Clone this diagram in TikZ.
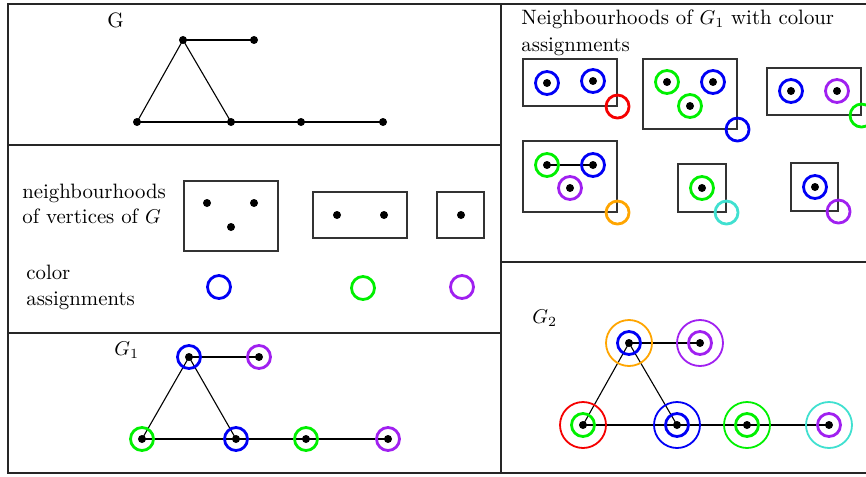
\documentclass[tikz,border=0pt]{standalone}
\definecolor{cgreen}{RGB}{0,240,0}
\definecolor{cpurple}{RGB}{160,32,240}
\definecolor{corange}{RGB}{255,165,0}
\definecolor{ccyan}{RGB}{64,224,208}
\definecolor{cblue}{RGB}{0,0,245}
\definecolor{cred}{RGB}{245,0,0}
\begin{document}
\begin{tikzpicture}[x=0.5pt,y=-0.5pt,
  every node/.style={font=\fontsize{10.4}{13}\selectfont},
  frame/.style={line width=0.7pt, draw=black!85},
  edge/.style={line width=0.55pt},
  vtx/.style={circle, fill=black, inner sep=0pt, minimum size=4pt},
  nbox/.style={draw=black!80, line width=0.55pt, inner sep=0pt},
  ring/.style={circle, draw=#1, line width=1.4pt, inner sep=0pt, minimum size=11.5pt},
  bigring/.style={circle, draw=#1, line width=0.9pt, inner sep=0pt, minimum size=23pt},
  txt/.style={inner sep=0pt, anchor=base west}]
\useasboundingbox (0,0) rectangle (866,476);

% table frame
\draw[frame] (8,4) rectangle (872,473);
\draw[frame] (8,145) -- (501,145);
\draw[frame] (8,333) -- (501,333);
\draw[frame] (501,4) -- (501,473);
\draw[frame] (501,262) -- (872,262);

% ---- graph G ----
\node[txt] (lG) at (107,28) {G};
\node[vtx] (g1) at (183,40) {};
\node[vtx] (g2) at (254,40) {};
\node[vtx] (g3) at (137,122) {};
\node[vtx] (g4) at (231,122) {};
\node[vtx] (g5) at (301,122) {};
\node[vtx] (g6) at (383,122) {};
\draw[edge] (g1.center) -- (g2.center);
\draw[edge] (g1.center) -- (g3.center);
\draw[edge] (g1.center) -- (g4.center);
\draw[edge] (g3.center) -- (g4.center) -- (g5.center) -- (g6.center);

% ---- neighbourhoods and colours ----
\node[txt] (t1) at (22,198) {neighbourhoods};
\node[txt] (t2) at (22,223) {of vertices of $G$};
\node[txt] (t3) at (26,279) {color};
\node[txt] (t4) at (26,305) {assignments};

\node[nbox, minimum width=47pt, minimum height=35pt] (n1) at (231,216) {};
\node[vtx] (n1a) at (207,203) {};
\node[vtx] (n1b) at (254,203) {};
\node[vtx] (n1c) at (231,227) {};
\node[nbox, minimum width=47pt, minimum height=23pt] (n2) at (360,215) {};
\node[vtx] (n2a) at (337,215) {};
\node[vtx] (n2b) at (384,215) {};
\node[nbox, minimum width=23.5pt, minimum height=23pt] (n3) at (460.5,215) {};
\node[vtx] (n3a) at (461,215) {};

\node[ring=cblue] (c1) at (219,287) {};
\node[ring=cgreen] (c2) at (363,288) {};
\node[ring=cpurple] (c3) at (462,287) {};

% ---- graph G1 ----
\node[txt] (lG1) at (114,355) {$G_1$};
\coordinate (h1) at (189,357);
\coordinate (h2) at (259,357);
\coordinate (h3) at (142,439);
\coordinate (h4) at (236,439);
\coordinate (h5) at (306,439);
\coordinate (h6) at (388,439);
\draw[edge] (h1) -- (h2);
\draw[edge] (h1) -- (h3);
\draw[edge] (h1) -- (h4);
\draw[edge] (h3) -- (h4) -- (h5) -- (h6);
\node[ring=cblue] (r1) at (h1) {};
\node[ring=cpurple] (r2) at (h2) {};
\node[ring=cgreen] (r3) at (h3) {};
\node[ring=cblue] (r4) at (h4) {};
\node[ring=cgreen] (r5) at (h5) {};
\node[ring=cpurple] (r6) at (h6) {};
\foreach \v in {h1,h2,h3,h4,h5,h6} \node[vtx] (d\v) at (\v) {};

% ---- neighbourhoods of G1 ----
\node[txt] (t5) at (521,25) {Neighbourhoods of $G_1$ with colour};
\node[txt] (t6) at (521,52) {assignments};

\node[nbox, minimum width=47pt, minimum height=23.5pt] (A) at (570,82.5) {};
\node[ring=cblue] (A1) at (547,83) {};
\node[ring=cblue] (A2) at (593,81) {};
\node[vtx] at (A1) {};
\node[vtx] at (A2) {};
\node[ring=cred] (Ac) at (A.south east) {};

\node[nbox, minimum width=47pt, minimum height=35pt] (B) at (690,94) {};
\node[ring=cgreen] (B1) at (667,82) {};
\node[ring=cblue] (B2) at (713,82) {};
\node[ring=cgreen] (B3) at (690,106) {};
\node[vtx] at (B1) {};
\node[vtx] at (B2) {};
\node[vtx] at (B3) {};
\node[ring=cblue] (Bc) at (B.south east) {};

\node[nbox, minimum width=47pt, minimum height=23.5pt] (C) at (814,91.5) {};
\node[ring=cblue] (C1) at (791,91) {};
\node[ring=cpurple] (C2) at (837,91) {};
\node[vtx] at (C1) {};
\node[vtx] at (C2) {};
\node[ring=cgreen] (Cc) at (C.south east) {};

\node[nbox, minimum width=47pt, minimum height=35.5pt] (D) at (570,176.5) {};
\draw[edge] (547,165) -- (593,165);
\node[ring=cgreen] (D1) at (547,165) {};
\node[ring=cblue] (D2) at (593,165) {};
\node[ring=cpurple] (D3) at (570,188) {};
\node[vtx] at (D1) {};
\node[vtx] at (D2) {};
\node[vtx] at (D3) {};
\node[ring=corange] (Dc) at (D.south east) {};

\node[nbox, minimum width=24pt, minimum height=24pt] (E) at (702,188) {};
\node[ring=cgreen] (E1) at (702,188) {};
\node[vtx] at (E1) {};
\node[ring=ccyan] (Ec) at (E.south east) {};

\node[nbox, minimum width=23.5pt, minimum height=24pt] (F) at (814.5,187) {};
\node[ring=cblue] (F1) at (815,187) {};
\node[vtx] at (F1) {};
\node[ring=cpurple] (Fc) at (F.south east) {};

% ---- graph G2 ----
\node[txt] (lG2) at (532,323) {$G_2$};
\coordinate (k1) at (629,343);
\coordinate (k2) at (700,343);
\coordinate (k3) at (583,425);
\coordinate (k4) at (677,425);
\coordinate (k5) at (747,425);
\coordinate (k6) at (829,425);
\draw[edge] (k1) -- (k2);
\draw[edge] (k1) -- (k3);
\draw[edge] (k1) -- (k4);
\draw[edge] (k3) -- (k4) -- (k5) -- (k6);
\node[bigring=corange] (o1) at (k1) {};
\node[bigring=cpurple] (o2) at (k2) {};
\node[bigring=cred] (o3) at (k3) {};
\node[bigring=cblue] (o4) at (k4) {};
\node[bigring=cgreen] (o5) at (k5) {};
\node[bigring=ccyan] (o6) at (k6) {};
\node[ring=cblue] (i1) at (k1) {};
\node[ring=cpurple] (i2) at (k2) {};
\node[ring=cgreen] (i3) at (k3) {};
\node[ring=cblue] (i4) at (k4) {};
\node[ring=cgreen] (i5) at (k5) {};
\node[ring=cpurple] (i6) at (k6) {};
\foreach \v in {k1,k2,k3,k4,k5,k6} \node[vtx] (d\v) at (\v) {};
\end{tikzpicture}
\end{document}
